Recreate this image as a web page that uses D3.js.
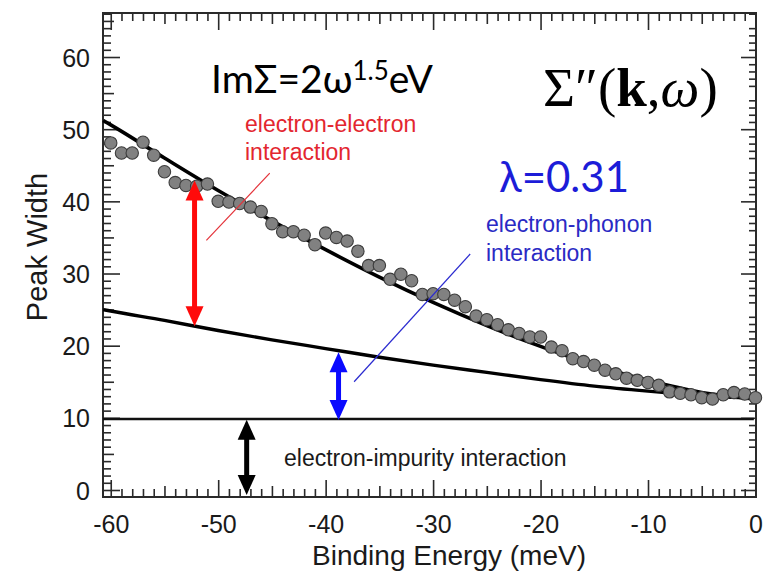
<!DOCTYPE html>
<html><head><meta charset="utf-8">
<script src="https://cdn.jsdelivr.net/npm/d3@7"></script>
<style>html,body{margin:0;padding:0;background:#fff;}svg{display:block;}</style>
</head><body>
<svg id="chart" width="765" height="571"></svg>
<script>
// ---- data ----
const energy = [-60,-59,-58,-57,-56,-55,-54,-53,-52,-51,-50,-49,-48,-47,-46,-45,-44,-43,-42,-41,-40,-39,-38,-37,-36,-35,-34,-33,-32,-31,-30,-29,-28,-27,-26,-25,-24,-23,-22,-21,-20,-19,-18,-17,-16,-15,-14,-13,-12,-11,-10,-9,-8,-7,-6,-5,-4,-3,-2,-1,0];
const peakWidth = [48.1,46.7,46.7,48.2,46.4,44.1,42.6,42.2,42.1,42.4,40.0,39.9,39.7,39.2,38.6,36.9,35.8,35.8,35.3,34.0,35.6,35.0,34.5,33.1,31.1,31.1,29.2,29.9,29.0,27.1,27.2,27.1,26.3,25.4,24.1,23.6,22.9,22.2,21.7,21.2,21.2,19.8,19.3,18.2,17.8,17.3,16.6,16.1,15.5,15.2,14.9,14.5,13.6,13.4,13.2,12.8,12.6,13.2,13.5,13.3,12.8];

const curveEnergy = [-60.7,-60,-55,-50,-45,-40,-35,-30,-25,-20,-15,-10,-5,0];
const totalFit    = [51.2,50.6,46.0,41.5,37.3,33.3,29.5,26.0,22.8,19.9,17.3,15.2,13.5,12.6];
const phononFit   = [25.0,24.8,23.5,22.1,20.8,19.6,18.4,17.3,16.3,15.3,14.4,13.7,13.1,12.7];
const impurityEnergy = [-60.72, -0.15];
const impurityLevel  = [9.83, 9.83];

// double arrows: [energy, from, to]
const arrowRed   = [-52.2, 42.9, 22.7];
const arrowBlue  = [-38.8, 19.1, 9.7];
const arrowBlack = [-47.35, 9.75, -0.7];
// pointer lines: [[e1,w1],[e2,w2]]
const pointerRed  = [[-51.1, 34.6], [-45.2, 43.9]];
const pointerBlue = [[-37.35, 15.0], [-26.55, 32.7]];

const xTicks = [-60,-50,-40,-30,-20,-10,0];
const yTicks = [0,10,20,30,40,50,60];
const xTickLabels = ["-60","-50","-40","-30","-20","-10","0"];
const yTickLabels = ["0","10","20","30","40","50","60"];

// ---- drawing ----
const svg = d3.select("#chart");
const x = d3.scaleLinear().domain([-60.72, 0.05]).range([103, 756]);
const y = d3.scaleLinear().domain([-0.97, 66.1]).range([497, 13]);
const X0 = x.range()[0], X1 = x.range()[1], Y0 = y.range()[0], Y1 = y.range()[1];

const axisColor = "#2a2a2a";
function tickAxis(gen, vals, size, transform, labels) {
  const g = svg.append("g").attr("transform", transform)
    .call(gen.tickValues(vals).tickSizeInner(size).tickSizeOuter(0)
      .tickFormat(labels ? (d => labels[vals.indexOf(d)]) : ""));
  g.select(".domain").remove();
  g.selectAll(".tick line").attr("stroke", axisColor).attr("stroke-width", 1.6);
  return g;
}
const minorX = d3.range(-60, 1, 1).filter(d => d % 5 !== 0);
const midX = d3.range(-55, 0, 10);
const minorY = d3.range(0, 67, 1).filter(d => d % 5 !== 0);
const midY = d3.range(5, 66, 10);

// bottom
const bx = tickAxis(d3.axisBottom(x), xTicks, -17, `translate(0,${Y0})`, xTickLabels);
bx.selectAll("text").attr("font-family", "'Liberation Sans', Arial, sans-serif")
  .attr("font-size", 25).attr("fill", "#1a1a1a").attr("y", 18).attr("dy", "0.71em");
tickAxis(d3.axisBottom(x), midX, -11, `translate(0,${Y0})`);
tickAxis(d3.axisBottom(x), minorX, -8, `translate(0,${Y0})`);
// top
tickAxis(d3.axisTop(x), xTicks, -17, `translate(0,${Y1})`);
tickAxis(d3.axisTop(x), midX, -11, `translate(0,${Y1})`);
tickAxis(d3.axisTop(x), minorX, -8, `translate(0,${Y1})`);
// left
const ly = tickAxis(d3.axisLeft(y), yTicks, -17, `translate(${X0},0)`, yTickLabels);
ly.selectAll("text").attr("font-family", "'Liberation Sans', Arial, sans-serif")
  .attr("font-size", 25).attr("fill", "#1a1a1a").attr("x", -13).attr("dy", "0.36em");
tickAxis(d3.axisLeft(y), midY, -11, `translate(${X0},0)`);
tickAxis(d3.axisLeft(y), minorY, -8, `translate(${X0},0)`);
// right
tickAxis(d3.axisRight(y), yTicks, -15, `translate(${X1},0)`);
tickAxis(d3.axisRight(y), minorY, -7, `translate(${X1},0)`);

// frame
svg.append("rect").attr("x", X0).attr("y", Y1).attr("width", X1 - X0).attr("height", Y0 - Y1)
  .attr("fill", "none").attr("stroke", axisColor).attr("stroke-width", 2);

// axis titles
svg.append("text").attr("x", 449).attr("y", 565).attr("text-anchor", "middle")
  .attr("font-family", "'Liberation Sans', Arial, sans-serif").attr("font-size", 28).attr("fill", "#1a1a1a")
  .text("Binding Energy (meV)");
svg.append("text").attr("transform", "translate(47,247) rotate(-90)").attr("text-anchor", "middle")
  .attr("font-family", "'Liberation Sans', Arial, sans-serif").attr("font-size", 29).attr("fill", "#1a1a1a")
  .text("Peak Width");

// curves
const line = d3.line().x(d => x(d[0])).y(d => y(d[1])).curve(d3.curveMonotoneX);
svg.append("path").datum(curveEnergy.map((e, i) => [e, totalFit[i]]))
  .attr("d", line).attr("fill", "none").attr("stroke", "#000").attr("stroke-width", 3.6);
svg.append("path").datum(curveEnergy.map((e, i) => [e, phononFit[i]]))
  .attr("d", line).attr("fill", "none").attr("stroke", "#000").attr("stroke-width", 3.4);
svg.append("path").datum(impurityEnergy.map((e, i) => [e, impurityLevel[i]]))
  .attr("d", d3.line().x(d => x(d[0])).y(d => y(d[1])))
  .attr("fill", "none").attr("stroke", "#111").attr("stroke-width", 2.6);

// data points
svg.append("g").selectAll("circle").data(energy.map((e, i) => [e, peakWidth[i]])).join("circle")
  .attr("cx", d => x(d[0])).attr("cy", d => y(d[1])).attr("r", 6.2)
  .attr("fill", "#818181").attr("stroke", "#3c3c3c").attr("stroke-width", 1.1);

// double arrows
function dblArrow(a, color) {
  const xs = x(a[0]), yt = y(a[1]), yb = y(a[2]);
  const hw = 9, hl = 20;
  const g = svg.append("g").attr("fill", color);
  g.append("line").attr("x1", xs).attr("x2", xs).attr("y1", yt + hl - 2).attr("y2", yb - hl + 2)
    .attr("stroke", color).attr("stroke-width", 5);
  g.append("path").attr("d", `M${xs},${yt} L${xs + hw},${yt + hl} L${xs - hw},${yt + hl} Z`);
  g.append("path").attr("d", `M${xs},${yb} L${xs + hw},${yb - hl} L${xs - hw},${yb - hl} Z`);
}
dblArrow(arrowRed, "#ff0a0a");
dblArrow(arrowBlue, "#0a0aff");
dblArrow(arrowBlack, "#000");

// pointer lines
const pl = d3.line().x(d => x(d[0])).y(d => y(d[1]));
svg.append("path").datum(pointerRed).attr("d", pl).attr("stroke", "#e4333a").attr("stroke-width", 1.2).attr("fill", "none");
svg.append("path").datum(pointerBlue).attr("d", pl).attr("stroke", "#2b2bd0").attr("stroke-width", 1.2).attr("fill", "none");

// annotation texts
const sans = "'Liberation Sans', Arial, sans-serif";
const red = svg.append("text").attr("font-family", sans).attr("font-size", 23).attr("fill", "#e3262f");
red.append("tspan").attr("x", 245).attr("y", 132).text("electron-electron");
red.append("tspan").attr("x", 245).attr("y", 160).text("interaction");

const blue = svg.append("text").attr("font-family", sans).attr("font-size", 23).attr("fill", "#2a2ac4");
blue.append("tspan").attr("x", 486).attr("y", 232).text("electron-phonon");
blue.append("tspan").attr("x", 486).attr("y", 261).text("interaction");

svg.append("text").attr("x", 284).attr("y", 466).attr("font-family", sans).attr("font-size", 23)
  .attr("fill", "#1a1a1a").text("electron-impurity interaction");

const im = svg.append("text").attr("x", 211).attr("y", 93).attr("font-family", "Lato, 'Open Sans', sans-serif")
  .attr("font-size", 39).attr("fill", "#000");
im.append("tspan").text("ImΣ=2ω");
im.append("tspan").attr("font-size", 26).attr("dy", -13).text("1.5");
im.append("tspan").attr("dy", 13).text("eV");

const sig = svg.append("text").attr("x", 543).attr("y", 106).attr("font-family", "'Liberation Serif', 'DejaVu Serif', serif")
  .attr("font-size", 55).attr("fill", "#000");
sig.append("tspan").text("Σ″(");
sig.append("tspan").attr("font-weight", "bold").text("k");
sig.append("tspan").text(",");
sig.append("tspan").attr("font-style", "italic").text("ω");
sig.append("tspan").text(")");

svg.append("text").attr("x", 499).attr("y", 192).attr("font-family", "Lato, 'Open Sans', sans-serif")
  .attr("font-size", 42).attr("fill", "#1c1cd8").text("λ=0.31");
</script>
</body></html>
